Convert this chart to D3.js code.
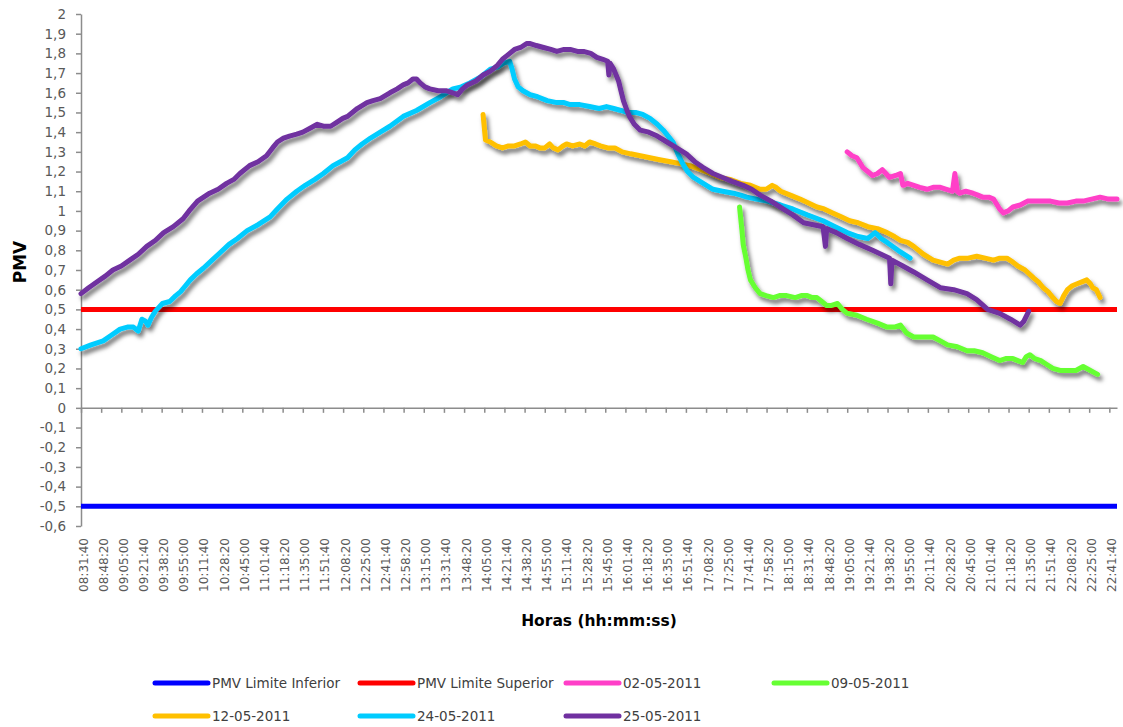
<!DOCTYPE html>
<html>
<head>
<meta charset="utf-8">
<script src="https://cdn.jsdelivr.net/npm/d3@7"></script>
<style>
  html, body { margin: 0; padding: 0; background: #ffffff; }
  svg { display: block; }
</style>
</head>
<body>
<svg id="chart" width="1123" height="727"></svg>
<script>
// Time span of the category axis
const startTime = "08:31:40";
const endTime = "22:48:00";

// Category labels on the time axis (every 16 min 40 s)
const tickTimes = [
  "08:31:40","08:48:20","09:05:00","09:21:40","09:38:20","09:55:00","10:11:40","10:28:20",
  "10:45:00","11:01:40","11:18:20","11:35:00","11:51:40","12:08:20","12:25:00","12:41:40",
  "12:58:20","13:15:00","13:31:40","13:48:20","14:05:00","14:21:40","14:38:20","14:55:00",
  "15:11:40","15:28:20","15:45:00","16:01:40","16:18:20","16:35:00","16:51:40","17:08:20",
  "17:25:00","17:41:40","17:58:20","18:15:00","18:31:40","18:48:20","19:05:00","19:21:40",
  "19:38:20","19:55:00","20:11:40","20:28:20","20:45:00","21:01:40","21:18:20","21:35:00",
  "21:51:40","22:08:20","22:25:00","22:41:40"
];

// PMV axis ticks
const pmvTicks = [2, 1.9, 1.8, 1.7, 1.6, 1.5, 1.4, 1.3, 1.2, 1.1, 1, 0.9, 0.8, 0.7, 0.6, 0.5,
  0.4, 0.3, 0.2, 0.1, 0, -0.1, -0.2, -0.3, -0.4, -0.5, -0.6];

// Comfort limits
const limiteInferior = [[startTime, -0.5], [endTime, -0.5]];
const limiteSuperior = [[startTime, 0.5], [endTime, 0.5]];

// Measured PMV per day: [time, PMV]
const dia0205 = [
  ["19:05",1.30],["19:09",1.28],["19:13",1.27],["19:18",1.22],["19:22",1.20],["19:26",1.18],
  ["19:30",1.19],["19:34",1.21],["19:37",1.19],["19:40",1.17],["19:45",1.18],["19:49",1.19],
  ["19:51",1.13],["19:55",1.14],["20:00",1.13],["20:05",1.12],["20:11",1.11],["20:16",1.12],
  ["20:22",1.12],["20:27",1.11],["20:32",1.10],["20:34",1.19],["20:36",1.10],["20:38",1.09],
  ["20:43",1.10],["20:49",1.09],["20:53",1.08],["20:57",1.07],["21:02",1.07],["21:06",1.06],
  ["21:11",1.01],["21:14",0.99],["21:18",1.00],["21:22",1.02],["21:28",1.03],["21:34",1.05],
  ["21:43",1.05],["21:53",1.05],["22:00",1.04],["22:07",1.04],["22:14",1.05],["22:20",1.05],
  ["22:27",1.06],["22:34",1.07],["22:41",1.06],["22:48",1.06]
];

const dia0905 = [
  ["17:36",1.02],["17:38",0.90],["17:39",0.83],["17:41",0.77],["17:43",0.70],["17:45",0.65],
  ["17:49",0.61],["17:53",0.58],["17:58",0.57],["18:04",0.56],["18:09",0.57],["18:15",0.57],
  ["18:22",0.56],["18:27",0.57],["18:32",0.57],["18:36",0.56],["18:40",0.56],["18:44",0.54],
  ["18:48",0.52],["18:52",0.52],["18:57",0.53],["19:01",0.50],["19:05",0.48],["19:13",0.47],
  ["19:21",0.45],["19:30",0.43],["19:38",0.41],["19:44",0.41],["19:49",0.42],["19:54",0.38],
  ["20:00",0.36],["20:08",0.36],["20:16",0.36],["20:22",0.34],["20:28",0.32],["20:36",0.31],
  ["20:44",0.29],["20:50",0.29],["20:57",0.28],["21:04",0.26],["21:11",0.24],["21:16",0.25],
  ["21:22",0.25],["21:26",0.24],["21:30",0.23],["21:33",0.26],["21:36",0.27],["21:40",0.25],
  ["21:45",0.24],["21:50",0.22],["21:55",0.20],["22:01",0.19],["22:07",0.19],["22:14",0.19],
  ["22:20",0.21],["22:26",0.19],["22:32",0.17]
];

const dia1205 = [
  ["14:04",1.49],["14:06",1.36],["14:10",1.35],["14:15",1.33],["14:20",1.32],["14:25",1.33],
  ["14:30",1.33],["14:35",1.34],["14:39",1.35],["14:43",1.33],["14:47",1.33],["14:51",1.32],
  ["14:55",1.32],["14:59",1.34],["15:02",1.32],["15:06",1.31],["15:10",1.33],["15:13",1.34],
  ["15:18",1.33],["15:24",1.34],["15:28",1.33],["15:32",1.35],["15:37",1.34],["15:41",1.33],
  ["15:47",1.32],["15:53",1.32],["15:59",1.30],["16:06",1.29],["16:14",1.28],["16:22",1.27],
  ["16:30",1.26],["16:39",1.25],["16:47",1.24],["16:55",1.23],["17:04",1.21],["17:12",1.19],
  ["17:20",1.17],["17:28",1.16],["17:37",1.14],["17:45",1.13],["17:53",1.11],["17:58",1.11],
  ["18:03",1.13],["18:06",1.12],["18:10",1.10],["18:18",1.08],["18:26",1.06],["18:33",1.04],
  ["18:40",1.02],["18:46",1.01],["18:53",0.99],["19:00",0.97],["19:07",0.95],["19:14",0.94],
  ["19:22",0.92],["19:30",0.91],["19:38",0.89],["19:44",0.87],["19:49",0.85],["19:55",0.84],
  ["20:00",0.82],["20:08",0.78],["20:16",0.75],["20:22",0.74],["20:28",0.73],["20:33",0.75],
  ["20:38",0.76],["20:45",0.76],["20:52",0.77],["20:59",0.76],["21:06",0.75],["21:11",0.76],
  ["21:17",0.76],["21:22",0.74],["21:26",0.72],["21:32",0.70],["21:39",0.66],["21:43",0.64],
  ["21:47",0.61],["21:51",0.59],["21:55",0.56],["21:58",0.54],["22:01",0.53],["22:04",0.57],
  ["22:07",0.60],["22:11",0.62],["22:15",0.63],["22:19",0.64],["22:23",0.65],["22:26",0.63],
  ["22:28",0.61],["22:31",0.60],["22:34",0.56]
];

const dia2405 = [
  ["08:31:40",0.30],["08:40",0.32],["08:50",0.34],["08:57",0.37],["09:04",0.40],["09:10",0.41],
  ["09:15",0.41],["09:19",0.39],["09:22",0.45],["09:25",0.44],["09:27",0.42],["09:30",0.46],
  ["09:33",0.49],["09:36",0.51],["09:39",0.53],["09:45",0.54],["09:50",0.57],["09:54",0.59],
  ["09:58",0.62],["10:02",0.65],["10:07",0.68],["10:13",0.71],["10:20",0.75],["10:27",0.79],
  ["10:34",0.83],["10:41",0.86],["10:49",0.90],["10:58",0.93],["11:08",0.97],["11:14",1.01],
  ["11:22",1.06],["11:30",1.10],["11:37",1.13],["11:45",1.16],["11:52",1.19],["12:00",1.23],
  ["12:06",1.25],["12:12",1.27],["12:18",1.31],["12:24",1.34],["12:31",1.37],["12:39",1.40],
  ["12:47",1.43],["12:58",1.48],["13:09",1.51],["13:20",1.55],["13:29",1.58],["13:39",1.62],
  ["13:46",1.63],["13:53",1.65],["14:02",1.68],["14:10",1.72],["14:16",1.73],["14:21",1.75],
  ["14:26",1.76],["14:28",1.72],["14:30",1.67],["14:33",1.63],["14:37",1.61],["14:43",1.59],
  ["14:49",1.58],["14:57",1.56],["15:05",1.55],["15:11",1.55],["15:16",1.54],["15:24",1.54],
  ["15:32",1.53],["15:40",1.52],["15:46",1.53],["15:52",1.52],["15:58",1.51],["16:03",1.50],
  ["16:10",1.50],["16:16",1.49],["16:22",1.47],["16:28",1.44],["16:33",1.41],["16:37",1.38],
  ["16:41",1.35],["16:45",1.29],["16:49",1.24],["16:53",1.20],["16:58",1.17],["17:06",1.14],
  ["17:14",1.11],["17:22",1.10],["17:31",1.09],["17:37",1.08],["17:42",1.07],["17:50",1.06],
  ["17:59",1.05],["18:10",1.03],["18:20",1.01],["18:32",0.98],["18:45",0.95],["18:55",0.92],
  ["19:05",0.89],["19:14",0.87],["19:22",0.86],["19:28",0.89],["19:33",0.86],["19:38",0.84],
  ["19:47",0.80],["19:57",0.76]
];

const dia2505 = [
  ["08:31:40",0.58],["08:38",0.61],["08:45",0.64],["08:52",0.67],["08:58",0.70],["09:05",0.72],
  ["09:12",0.75],["09:19",0.78],["09:26",0.82],["09:33",0.85],["09:40",0.89],["09:48",0.92],
  ["09:56",0.96],["10:01",1.00],["10:08",1.05],["10:13",1.07],["10:18",1.09],["10:25",1.11],
  ["10:32",1.14],["10:38",1.16],["10:43",1.19],["10:51",1.23],["10:58",1.25],["11:05",1.28],
  ["11:10",1.32],["11:14",1.35],["11:19",1.37],["11:24",1.38],["11:30",1.39],["11:35",1.40],
  ["11:41",1.42],["11:47",1.44],["11:52",1.43],["11:58",1.43],["12:03",1.45],["12:08",1.47],
  ["12:12",1.48],["12:20",1.52],["12:28",1.55],["12:33",1.56],["12:39",1.57],["12:47",1.60],
  ["12:53",1.62],["12:58",1.64],["13:02",1.65],["13:06",1.67],["13:09",1.67],["13:12",1.65],
  ["13:16",1.63],["13:20",1.62],["13:27",1.61],["13:34",1.61],["13:39",1.60],["13:43",1.59],
  ["13:47",1.62],["13:51",1.64],["13:58",1.66],["14:04",1.69],["14:10",1.71],["14:16",1.74],
  ["14:20",1.77],["14:24",1.79],["14:30",1.82],["14:35",1.83],["14:40",1.85],["14:43",1.85],
  ["14:48",1.84],["14:54",1.83],["15:00",1.82],["15:05",1.81],["15:11",1.82],["15:16",1.82],
  ["15:22",1.81],["15:27",1.81],["15:33",1.80],["15:38",1.78],["15:43",1.77],["15:47",1.76],
  ["15:48",1.69],["15:49",1.75],["15:52",1.72],["15:56",1.66],["15:58",1.61],["16:00",1.56],
  ["16:03",1.51],["16:05",1.48],["16:09",1.44],["16:14",1.41],["16:21",1.40],["16:28",1.38],
  ["16:36",1.35],["16:44",1.32],["16:52",1.29],["16:59",1.25],["17:06",1.22],["17:14",1.19],
  ["17:22",1.17],["17:30",1.15],["17:39",1.13],["17:46",1.11],["17:53",1.08],["18:02",1.05],
  ["18:12",1.01],["18:20",0.98],["18:29",0.94],["18:37",0.93],["18:45",0.92],["18:47",0.82],
  ["18:48",0.91],["18:56",0.89],["19:05",0.86],["19:15",0.83],["19:26",0.80],["19:33",0.78],
  ["19:40",0.76],["19:41",0.63],["19:42",0.75],["19:51",0.72],["20:00",0.69],["20:11",0.65],
  ["20:22",0.61],["20:33",0.60],["20:44",0.58],["20:52",0.55],["21:01",0.50],["21:06",0.49],
  ["21:11",0.48],["21:20",0.45],["21:28",0.42],["21:31",0.44],["21:35",0.49]
];

const limitSeries = [
  { name: "PMV Limite Inferior", color: "#0000FF", data: limiteInferior },
  { name: "PMV Limite Superior", color: "#FF0000", data: limiteSuperior }
];
const daySeries = [
  { name: "02-05-2011", color: "#FF3FC8", data: dia0205 },
  { name: "09-05-2011", color: "#66FF33", data: dia0905 },
  { name: "12-05-2011", color: "#FFC000", data: dia1205 },
  { name: "24-05-2011", color: "#00CCFF", data: dia2405 },
  { name: "25-05-2011", color: "#7030A0", data: dia2505 }
];

function toSeconds(t) {
  const p = t.split(":").map(Number);
  return p[0] * 3600 + p[1] * 60 + (p[2] || 0);
}

const svg = d3.select("#chart");
const plot = { left: 81, right: 1117, top: 14, bottom: 526 };

const x = d3.scaleLinear()
  .domain([toSeconds(startTime), toSeconds(endTime)])
  .range([plot.left, plot.right]);
const y = d3.scaleLinear()
  .domain([-0.6, 2])
  .range([plot.bottom, plot.top]);

const axisColor = "#8c8c8c";
const textColor = "#595959";
const fontFamily = "'DejaVu Sans', sans-serif";

// Soft shadow under the measured series
const defs = svg.append("defs");
const shadow = defs.append("filter").attr("id", "shadow")
  .attr("x", "-5%").attr("y", "-5%").attr("width", "115%").attr("height", "125%");
shadow.append("feDropShadow")
  .attr("dx", 2.5).attr("dy", 4).attr("stdDeviation", 2)
  .attr("flood-color", "#000").attr("flood-opacity", 0.55);

// Y axis
const yAxis = svg.append("g")
  .attr("transform", `translate(${plot.left},0)`)
  .call(d3.axisLeft(y)
    .tickValues(pmvTicks)
    .tickSize(5)
    .tickSizeOuter(0)
    .tickPadding(10)
    .tickFormat(d => String(d).replace(".", ",")));
yAxis.select(".domain").attr("stroke", axisColor).attr("stroke-width", 1.5);
yAxis.selectAll(".tick line").attr("stroke", axisColor).attr("stroke-width", 1.5);
yAxis.selectAll(".tick text")
  .attr("fill", textColor)
  .style("font-family", fontFamily)
  .style("font-size", "13.5px");

// X axis on PMV = 0
const zeroY = y(0);
const xAxis = svg.append("g")
  .attr("transform", `translate(0,${zeroY})`)
  .call(d3.axisBottom(x)
    .tickValues(tickTimes.map(toSeconds))
    .tickSize(5)
    .tickSizeOuter(0)
    .tickFormat((d, i) => tickTimes[i]));
xAxis.select(".domain").attr("stroke", axisColor).attr("stroke-width", 1.5);
xAxis.selectAll(".tick line").attr("stroke", axisColor).attr("stroke-width", 1.5);
const labelTop = 538;
xAxis.selectAll(".tick text")
  .attr("x", 0).attr("y", 0).attr("dy", null)
  .attr("transform", `translate(2,${labelTop - zeroY}) rotate(-90)`)
  .attr("text-anchor", "end")
  .attr("dominant-baseline", "central")
  .attr("fill", textColor)
  .style("font-family", fontFamily)
  .style("font-size", "12px");

const line = d3.line()
  .x(d => x(toSeconds(d[0])))
  .y(d => y(d[1]));

// Limit lines
svg.append("g").selectAll("path")
  .data(limitSeries)
  .join("path")
  .attr("d", d => line(d.data))
  .attr("fill", "none")
  .attr("stroke", d => d.color)
  .attr("stroke-width", 5);

// Daily series
svg.append("g").selectAll("path")
  .data(daySeries)
  .join("path")
  .attr("d", d => line(d.data))
  .attr("fill", "none")
  .attr("stroke", d => d.color)
  .attr("stroke-width", 5)
  .attr("stroke-linejoin", "round")
  .attr("stroke-linecap", "round")
  .attr("filter", "url(#shadow)");

// Axis titles
svg.append("text")
  .attr("transform", `translate(20,262) rotate(-90)`)
  .attr("text-anchor", "middle")
  .attr("dominant-baseline", "central")
  .style("font-family", fontFamily)
  .style("font-weight", "bold")
  .style("font-size", "17px")
  .attr("fill", "#000")
  .text("PMV");

svg.append("text")
  .attr("x", (plot.left + plot.right) / 2)
  .attr("y", 626)
  .attr("text-anchor", "middle")
  .style("font-family", fontFamily)
  .style("font-weight", "bold")
  .style("font-size", "15.5px")
  .attr("fill", "#000")
  .text("Horas (hh:mm:ss)");

// Legend
const legendItems = limitSeries.concat(daySeries);
const legendCols = [155, 360, 566, 774];
const legendRows = [683, 716];
const legend = svg.append("g").selectAll("g")
  .data(legendItems)
  .join("g")
  .attr("transform", (d, i) => `translate(${legendCols[i % 4]},${legendRows[Math.floor(i / 4)]})`);
legend.append("line")
  .attr("x1", 0).attr("x2", 53).attr("y1", 0).attr("y2", 0)
  .attr("stroke", d => d.color)
  .attr("stroke-width", 5)
  .attr("stroke-linecap", "round");
legend.append("text")
  .attr("x", 57)
  .attr("y", 0)
  .attr("dy", "0.35em")
  .attr("fill", "#404040")
  .style("font-family", fontFamily)
  .style("font-size", "13.5px")
  .text(d => d.name);
</script>
</body>
</html>
